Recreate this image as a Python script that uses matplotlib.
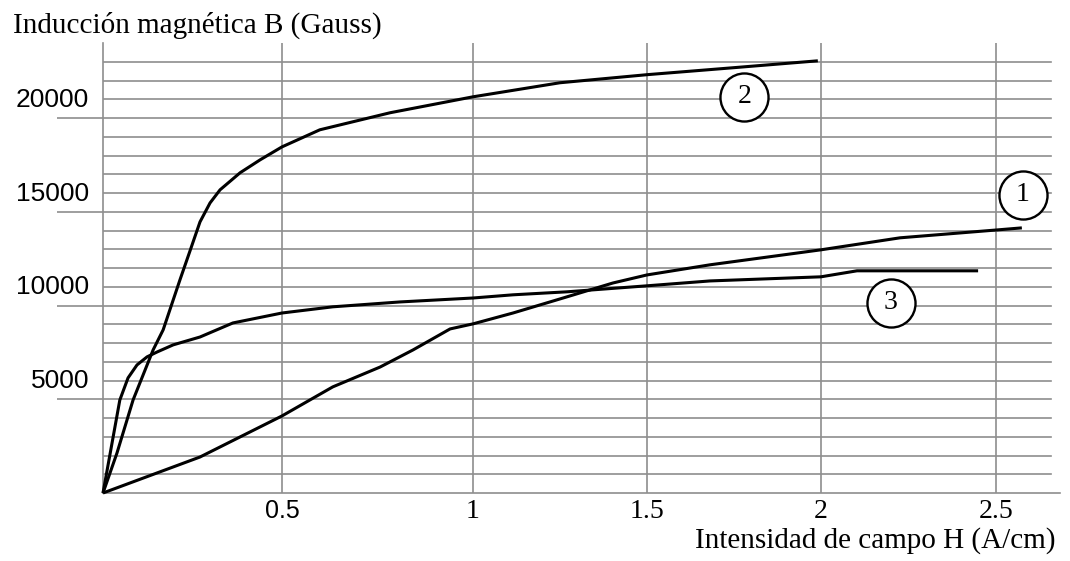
import numpy as np
import matplotlib
matplotlib.use("Agg")
import matplotlib.pyplot as plt
from matplotlib.transforms import ScaledTranslation

# ---------------- data ----------------
# curve 1
h1 = [0, 0.271, 0.5, 0.633, 0.757, 0.843, 0.940, 1.0, 1.115, 1.259, 1.402,
      1.5, 1.681, 2.0, 2.226, 2.503, 2.574]
b1 = [0, 1920, 4110, 5660, 6720, 7630, 8750, 9020, 9600, 10400, 11200,
      11630, 12170, 12970, 13610, 14030, 14140]
# curve 2
h2 = [0, 0.039, 0.084, 0.140, 0.168, 0.215, 0.243, 0.271, 0.299, 0.327, 0.383,
      0.439, 0.5, 0.599, 0.783, 1.0, 1.25, 1.5, 1.747, 1.991]
b2 = [0, 2130, 4960, 7630, 8700, 11370, 12910, 14460, 15470, 16170, 17080,
      17770, 18460, 19370, 20280, 21130, 21880, 22310, 22680, 23050]
# curve 3
h3 = [0, 0.047, 0.070, 0.095, 0.123, 0.151, 0.196, 0.271, 0.363, 0.5, 0.633,
      0.809, 1.0, 1.115, 1.270, 1.5, 1.681, 2.0, 2.103, 2.449]
b3 = [0, 4960, 6140, 6830, 7260, 7520, 7900, 8320, 9070, 9600, 9930,
      10190, 10400, 10570, 10730, 11050, 11310, 11530, 11850, 11850]

curve_labels = ["1", "2", "3"]
label_h = [2.577, 1.78, 2.2]
label_b = [15900, 21130, 10140]

x_ticks = [0.5, 1, 1.5, 2, 2.5]
x_tick_labels = ["0.5", "1", "1.5", "2", "2.5"]
y_ticks = [5000, 10000, 15000, 20000]
y_tick_labels = ["5000", "10000", "15000", "20000"]
y_grid = list(range(1000, 24000, 1000))

# ---------------- layout / style ----------------
W, H, DPI = 1070, 561, 100
GRID = "#8e8e8e"
SERIF = "Liberation Serif"
SANS = "Liberation Sans"

# the hand-drawn grid of the original is slightly uneven along H:
# a piecewise-linear function scale reproduces its spacing
GX = [0, 0.5, 1, 1.5, 2, 2.5]
GP = [103, 282, 473, 647, 821, 996]


def fwd(x):
    x = np.asarray(x, dtype=float)
    y = np.interp(x, GX, GP)
    y = np.where(x > GX[-1], GP[-1] + (x - GX[-1]) * 350.0, y)
    y = np.where(x < GX[0], GP[0] + (x - GX[0]) * 358.0, y)
    return y


def inv(p):
    p = np.asarray(p, dtype=float)
    x = np.interp(p, GP, GX)
    x = np.where(p > GP[-1], GX[-1] + (p - GP[-1]) / 350.0, x)
    x = np.where(p < GP[0], GX[0] + (p - GP[0]) / 358.0, x)
    return x


fig = plt.figure(figsize=(W / DPI, H / DPI), dpi=DPI)
ax = fig.add_axes([103 / W, 68 / H, 957 / W, 450 / H])
ax.set_xscale("function", functions=(fwd, inv))
ax.set_xlim(0, 2.683)
ax.set_ylim(0, 24000)

for s in ("top", "right"):
    ax.spines[s].set_visible(False)
for s in ("left", "bottom"):
    ax.spines[s].set_color(GRID)
    ax.spines[s].set_linewidth(1.2)

# horizontal grid
for v in y_grid:
    ax.axhline(v, xmin=0, xmax=0.991, color=GRID, lw=1.2, zorder=0.5)

# x ticks / vertical grid
ax.set_xticks(x_ticks, x_tick_labels)
ax.grid(axis="x", color=GRID, lw=1.2, zorder=0.5)
ax.tick_params(axis="x", length=0, pad=4, labelsize=19)
for lbl in ax.get_xticklabels():
    if lbl.get_text() == "0.5":
        lbl.set_fontfamily(SANS)
        lbl.set_fontsize(18)
    else:
        lbl.set_fontfamily(SERIF)
        lbl.set_fontsize(20)

# y ticks: long leftward tick lines, labels sitting above them
ax.tick_params(axis="y", length=33, width=1.2, color=GRID, direction="out",
               pad=-23, labelsize=19)
ax.set_yticks(y_ticks, y_tick_labels)
shift = ScaledTranslation(0, 11 / DPI, fig.dpi_scale_trans)
for lbl in ax.get_yticklabels():
    lbl.set_fontfamily(SANS)
    lbl.set_verticalalignment("baseline")
    lbl.set_transform(lbl.get_transform() + shift)

# curves
for hh, bb in ((h1, b1), (h2, b2), (h3, b3)):
    ax.plot(hh, bb, color="black", lw=2.2, solid_joinstyle="round",
            solid_capstyle="butt", zorder=3, clip_on=False)

# circled curve labels
ax.plot(label_h, label_b, "o", ms=34.6, mfc="white", mec="black", mew=1.7,
        ls="none", zorder=4, clip_on=False)
for s, hh, bb in zip(curve_labels, label_h, label_b):
    ax.text(hh, bb, s, ha="center", va="center", fontsize=20,
            family=SERIF, zorder=5)

# axis titles
ax.set_xlabel("Intensidad de campo H (A/cm)", fontsize=21, family=SERIF,
              ha="right", va="baseline")
ax.xaxis.set_label_coords(0.9948, -0.121)
ax.set_ylabel("Inducción magnética B (Gauss)", fontsize=21, family=SERIF,
              rotation=0, ha="left", va="baseline")
ax.yaxis.set_label_coords(-0.094, 1.0222)

fig.savefig("out.png", dpi=DPI)
